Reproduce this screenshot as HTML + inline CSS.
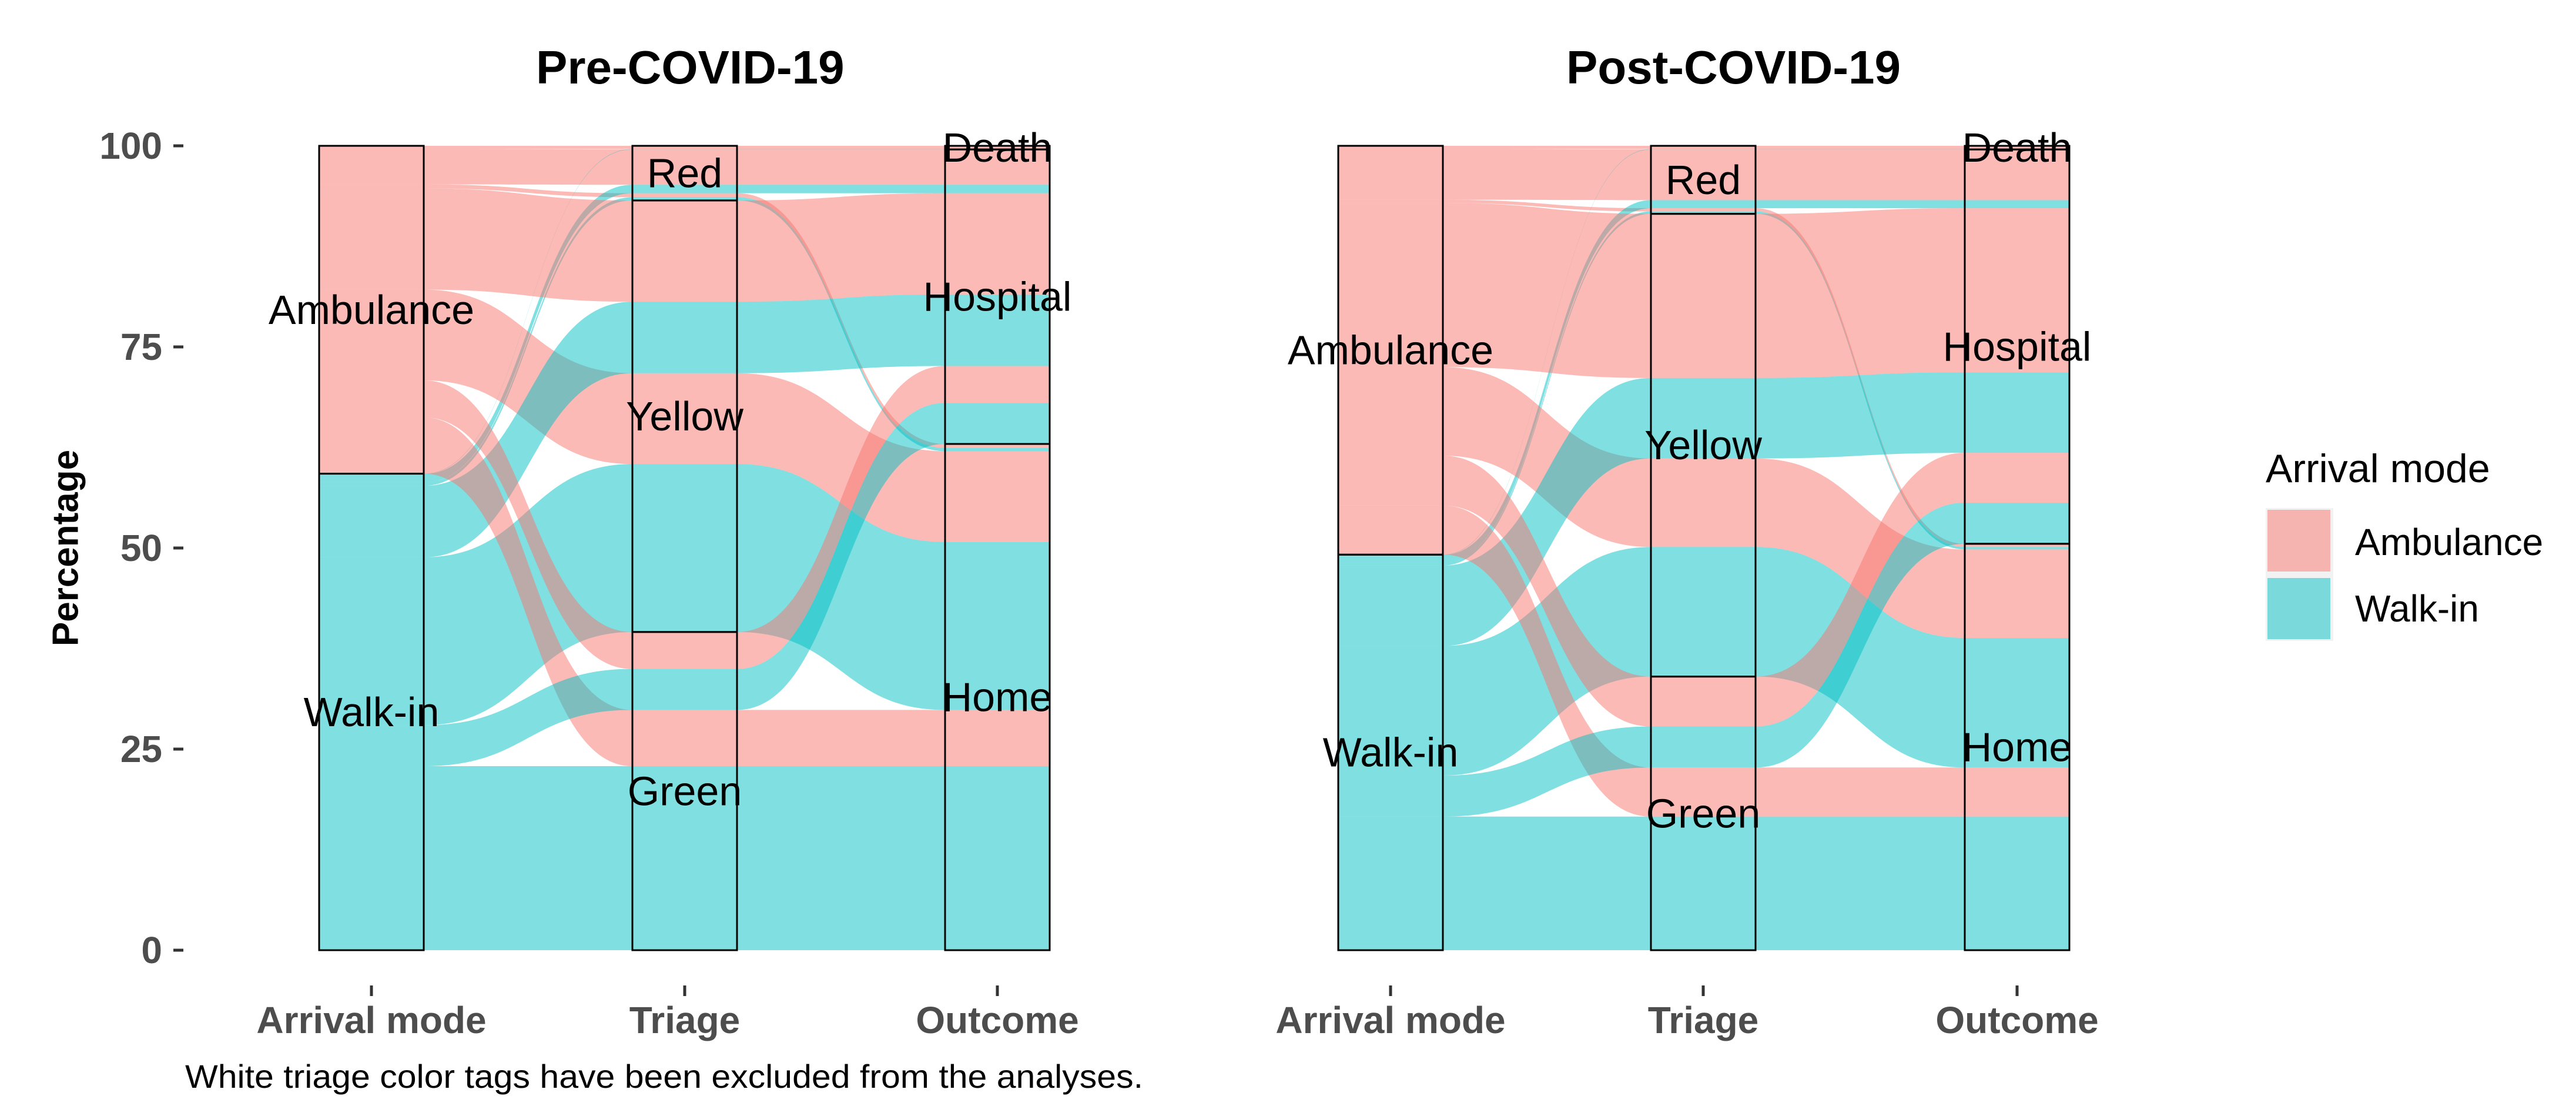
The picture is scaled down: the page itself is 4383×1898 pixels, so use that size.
<!DOCTYPE html>
<html><head><meta charset="utf-8"><style>
html,body{margin:0;padding:0;background:#fff}
svg{display:block}
text{font-family:"Liberation Sans",Arial,sans-serif}
</style></head><body>
<svg id="chart" xmlns="http://www.w3.org/2000/svg" width="4383" height="1898" viewBox="0 0 4383 1898">
<rect width="4383" height="1898" fill="#fff"/>
<g id="plots"></g>
<text x="112" y="932" transform="rotate(-90 112 932)" text-anchor="middle" dominant-baseline="central" font-size="62" font-weight="bold" fill="#000">Percentage</text>
<text x="912" y="142" font-size="80" font-weight="bold" fill="#000">Pre-COVID-19</text>
<text x="2665" y="142" font-size="80" font-weight="bold" fill="#000">Post-COVID-19</text>
<text x="315" y="1850" font-size="56" fill="#000" textLength="1630" lengthAdjust="spacingAndGlyphs">White triage color tags have been excluded from the analyses.</text>
<g>
<text x="3855" y="820" font-size="68" fill="#000">Arrival mode</text>
<rect x="3855" y="864" width="115" height="226" fill="#f2f2f2"/>
<rect x="3858" y="867" width="107" height="105" fill="#F8766D" fill-opacity="0.5"/>
<rect x="3858" y="983" width="107" height="104" fill="#00BFC4" fill-opacity="0.5"/>
<text x="4007" y="944" font-size="64" fill="#000">Ambulance</text>
<text x="4007" y="1057" font-size="64" fill="#000">Walk-in</text>
</g>
</svg>
<script>
// Strata definitions
const arrivalStrata = ["Ambulance","Walk-in"];
const triageStrata = ["Red","Yellow","Green"];
const outcomeStrata = ["Death","Hospital","Home"];
const axisNames = ["Arrival mode","Triage","Outcome"];
const yTicks = [0,25,50,75,100];
// Pre-COVID alluvia
const preArrival = ["Ambulance","Ambulance","Ambulance","Walk-in","Walk-in","Walk-in","Ambulance","Ambulance","Walk-in","Walk-in","Ambulance","Ambulance","Walk-in","Walk-in"];
const preTriage  = ["Red","Red","Red","Red","Red","Red","Yellow","Yellow","Yellow","Yellow","Green","Green","Green","Green"];
const preOutcome = ["Death","Hospital","Home","Death","Hospital","Home","Hospital","Home","Hospital","Home","Hospital","Home","Hospital","Home"];
const preValues  = [0.4,4.4,0.5,0.05,1.05,0.4,12.6,11.3,8.9,20.9,4.6,7.0,5.1,22.9];
// Post-COVID alluvia
const postArrival = ["Ambulance","Ambulance","Ambulance","Walk-in","Walk-in","Walk-in","Ambulance","Ambulance","Walk-in","Walk-in","Ambulance","Ambulance","Walk-in","Walk-in"];
const postTriage  = ["Red","Red","Red","Red","Red","Red","Yellow","Yellow","Yellow","Yellow","Green","Green","Green","Green"];
const postOutcome = ["Death","Hospital","Home","Death","Hospital","Home","Hospital","Home","Hospital","Home","Hospital","Home","Hospital","Home"];
const postValues  = [0.4,6.3,0.4,0.05,1.0,0.3,20.4,11.0,10.0,16.1,6.2,6.1,5.1,16.6];

const NS="http://www.w3.org/2000/svg";
const Y_TOP=248, Y_BOT=1616, BOXW=178;
const colors={"Ambulance":"#F8766D","Walk-in":"#00BFC4"};
function yScale(p){return Y_BOT-(p/100)*(Y_BOT-Y_TOP);}
function mk(tag,attrs,parent){const e=document.createElementNS(NS,tag);for(const k in attrs)e.setAttribute(k,attrs[k]);parent.appendChild(e);return e;}

function drawPanel(name,axisX,arr,tri,out,vals,showY){
  const root=document.getElementById('plots');
  const g=mk('g',{},root);
  
  
  const n=vals.length, total=vals.reduce((a,b)=>a+b,0);
  const keys=[arr.map(a=>arrivalStrata.indexOf(a)),tri.map(t=>triageStrata.indexOf(t)),out.map(o=>outcomeStrata.indexOf(o))];
  const orders=[[0,1,2],[1,2,0],[2,1,0]];
  const tops=[[],[],[]], bots=[[],[],[]];
  const strata=[[],[],[]];
  for(let ax=0;ax<3;ax++){
    const idx=[...Array(n).keys()];
    const ord=orders[ax];
    idx.sort((a,b)=>{for(const k of ord){if(keys[k][a]!==keys[k][b])return keys[k][a]-keys[k][b];}return 0;});
    let cum=0;
    for(const i of idx){
      tops[ax][i]=yScale(100-cum/total*100);
      cum+=vals[i];
      bots[ax][i]=yScale(100-cum/total*100);
    }
    const names=[arrivalStrata,triageStrata,outcomeStrata][ax];
    names.forEach((s,si)=>{
      let t=Infinity,b=-Infinity;
      for(let i=0;i<n;i++)if(keys[ax][i]===si){t=Math.min(t,tops[ax][i]);b=Math.max(b,bots[ax][i]);}
      if(t<b)strata[ax].push({name:s,t:t,b:b});
    });
  }
  // flows
  for(let i=0;i<n;i++){
    const x0=axisX.map(c=>c-BOXW/2), x1=axisX.map(c=>c+BOXW/2);
    const t=tops.map(a=>a[i]), b=bots.map(a=>a[i]);
    const m1=(x1[0]+x0[1])/2, m2=(x1[1]+x0[2])/2;
    const d=`M${x0[0]},${t[0]} H${x1[0]} C${m1},${t[0]} ${m1},${t[1]} ${x0[1]},${t[1]} H${x1[1]} C${m2},${t[1]} ${m2},${t[2]} ${x0[2]},${t[2]} H${x1[2]} V${b[2]} H${x0[2]} C${m2},${b[2]} ${m2},${b[1]} ${x1[1]},${b[1]} H${x0[1]} C${m1},${b[1]} ${m1},${b[0]} ${x1[0]},${b[0]} H${x0[0]} Z`;
    const p=mk('path',{d:d,fill:colors[arr[i]],'fill-opacity':0.5},g);
    
    
  }
  // strata boxes and labels
  for(let ax=0;ax<3;ax++){
    strata[ax].forEach(s=>{
      const r=mk('rect',{x:axisX[ax]-BOXW/2,y:s.t,width:BOXW,height:s.b-s.t,fill:'none',stroke:'#000','stroke-width':3},g);
      
      
    });
    strata[ax].forEach(s=>{
      const tx=mk('text',{x:axisX[ax],y:(s.t+s.b)/2,'text-anchor':'middle','dominant-baseline':'central','font-size':70,fill:'#000'},g);
      tx.textContent=s.name;
      
      
    });
    const tk=mk('line',{x1:axisX[ax],x2:axisX[ax],y1:1676,y2:1694,stroke:'#333','stroke-width':5},g);
    
    
    const xl=mk('text',{x:axisX[ax],y:1757,'text-anchor':'middle','font-size':64,'font-weight':'bold',fill:'#4d4d4d'},g);
    xl.textContent=axisNames[ax];
    
    
  }
  if(showY){
    yTicks.forEach(v=>{
      const l=mk('line',{x1:295,x2:312,y1:yScale(v),y2:yScale(v),stroke:'#333','stroke-width':5},g);
      
      
      const t=mk('text',{x:276,y:yScale(v),'text-anchor':'end','dominant-baseline':'central','font-size':64,'font-weight':'bold',fill:'#4d4d4d'},g);
      t.textContent=String(v);
      
      
    });
  }
}
drawPanel('pre-covid',[632,1165,1697],preArrival,preTriage,preOutcome,preValues,true);
drawPanel('post-covid',[2366,2898,3432],postArrival,postTriage,postOutcome,postValues,false);
</script>
</body></html>
